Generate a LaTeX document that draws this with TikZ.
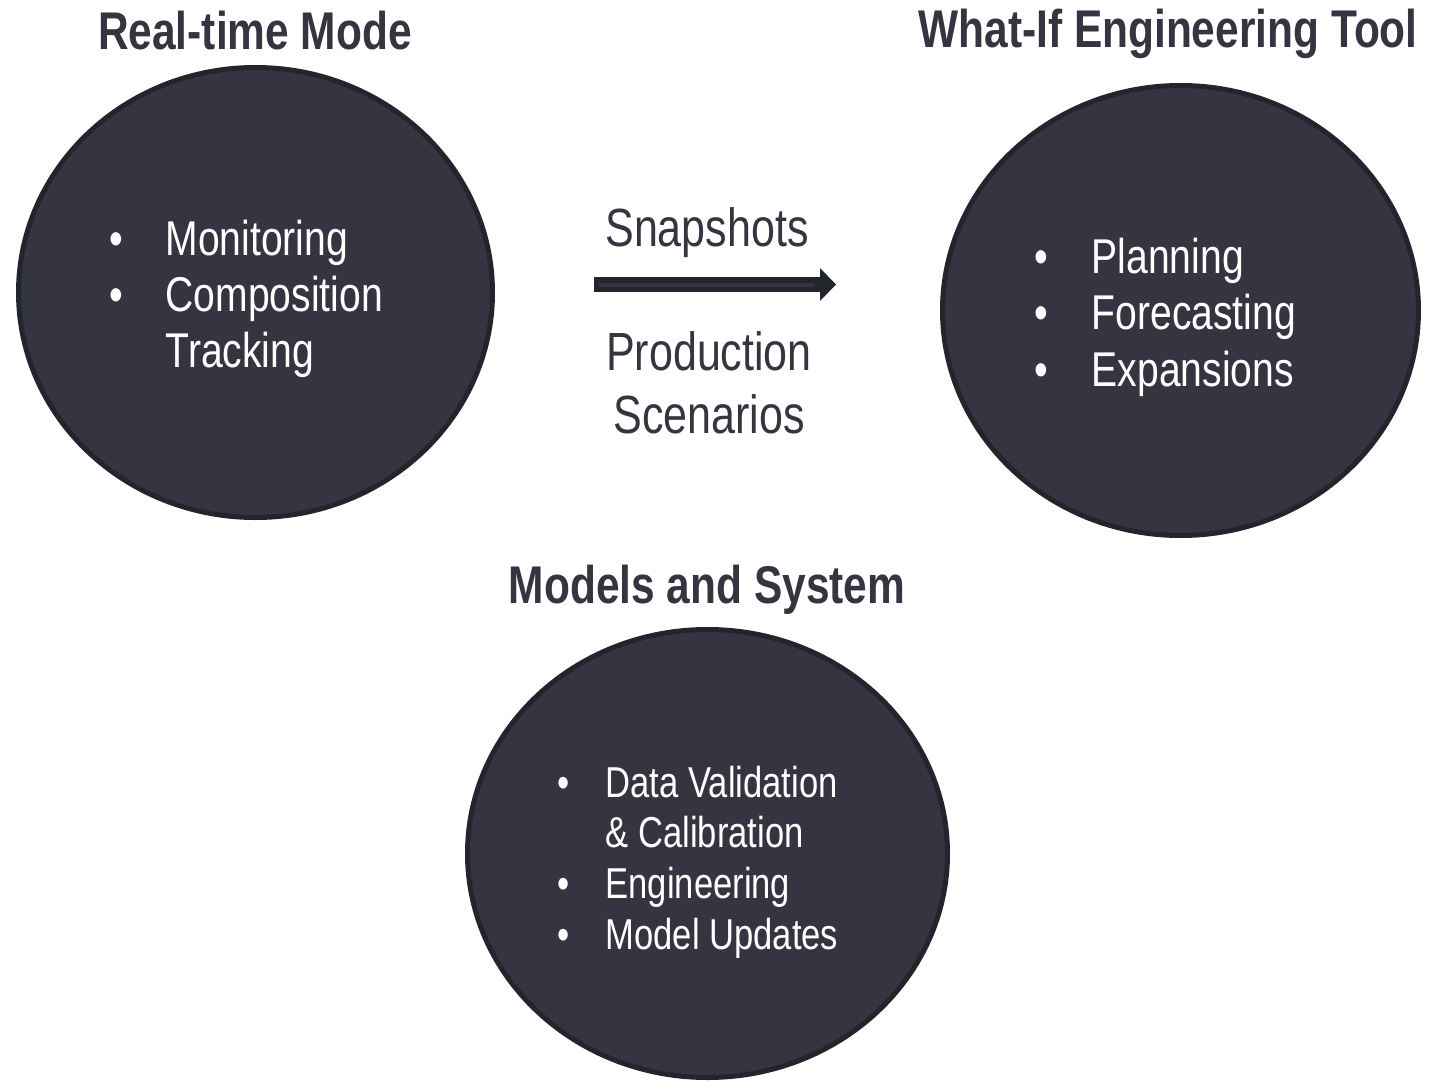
\documentclass[tikz,border=0pt]{standalone}
\usepackage{fontspec}
\setmainfont{Liberation Sans}[FakeStretch=0.8]
\usetikzlibrary{shapes.geometric,arrows.meta,positioning}
\definecolor{slate}{HTML}{343541}
\definecolor{slateedge}{HTML}{23252C}
\tikzset{mode/.style={ellipse,draw=slateedge,line width=0.05cm,fill=slate,inner sep=0pt}}
% bullet list, first baseline on the node's base
\newcommand{\blist}[2]{\begin{tabular}[t]{@{}p{#1}@{}l@{}}#2\end{tabular}}

\begin{document}
\begin{tikzpicture}[>={Triangle[length=0.16cm,width=0.33cm,line width=0pt]}]
        \tikzstyle{title}=[anchor=base,text=slate,font=\fontsize{15.1}{18}\selectfont\bfseries]
        \tikzstyle{items}=[anchor=base west,inner sep=0pt,text=white]
        \tikzstyle{label}=[anchor=base,inner sep=0pt,text=slate,font=\fontsize{15.3}{18}\selectfont]
        \useasboundingbox (0,0) rectangle (14.45,-10.82);
        % the three modes
        \node[mode,minimum width=4.74cm,minimum height=4.50cm] (realtime) at (2.555,-2.925) {};
        \node[mode,minimum width=4.76cm,minimum height=4.50cm] (whatif) at (11.805,-3.105) {};
        \node[mode,minimum width=4.80cm,minimum height=4.48cm] (models) at (7.075,-8.535) {};
        \node[title] (realtimetitle) at (2.55,-0.49) {Real-time Mode};
        \node[title] (whatiftitle) at (11.68,-0.47) {What-If Engineering Tool};
        \node[title] (modelstitle) at (7.07,-6.03) {Models and System};
        % contents
        \node[items,font=\fontsize{13.9}{16}\selectfont] (realtimelist) at (1.09,-2.55)
            {\blist{0.56cm}{\textbullet & Monitoring\\ \textbullet & Composition\\ & Tracking}};
        \node[items,font=\fontsize{13.9}{16.1}\selectfont] (whatiflist) at (10.34,-2.73)
            {\blist{0.57cm}{\textbullet & Planning\\ \textbullet & Forecasting\\ \textbullet & Expansions}};
        \node[items,font=\fontsize{12.3}{14.5}\selectfont] (modelslist) at (5.57,-7.97)
            {\blist{0.48cm}{\textbullet & Data Validation\\ & \& Calibration\\ \textbullet & Engineering\\ \textbullet & Model Updates}};
        % hand-over between the modes
        \coordinate (snaptail) at (5.94,-2.845);
        \coordinate (snaptip) at (8.36,-2.845);
        \draw[->,draw=slateedge,fill=slateedge,line width=0.15cm,
            postaction={draw=slate,line width=0.04cm,-,shorten <=0.05cm,shorten >=0.22cm}] (snaptail) -- (snaptip);
        \node[label] (snaplabel) at (7.07,-2.46) {Snapshots};
        \node[label] (prodlabel) at (7.09,-3.70) {\begin{tabular}[t]{@{}c@{}}Production\\ Scenarios\end{tabular}};
\end{tikzpicture}
\end{document}
